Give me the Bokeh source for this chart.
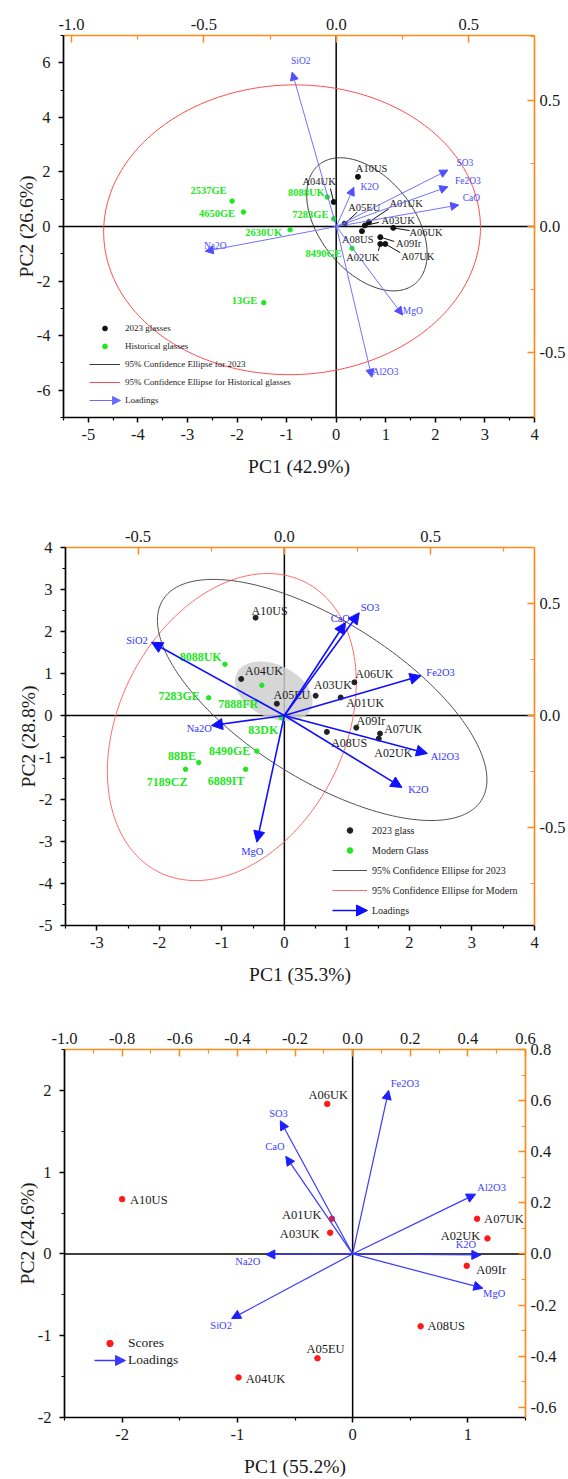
import numpy as np
from bokeh.plotting import figure
from bokeh.models import (ColumnDataSource, Range1d, LinearAxis, FixedTicker,
                          PrintfTickFormatter, Arrow, NormalHead, Span, Legend, LegendItem)
from bokeh.core.properties import value
from bokeh.embed import file_html
from bokeh.resources import INLINE

# ======================= DATA =======================
# ---- Panel 1 : 2023 glasses vs historical glasses ----
p1_g23_names = ["A10US", "A04UK", "A05EU", "A01UK", "A03UK", "A06UK", "A08US", "A09Ir", "A07UK", "A02UK"]
p1_g23_pc1 = [0.44, -0.05, 0.17, 0.66, 0.58, 1.15, 0.52, 0.89, 0.99, 0.89]
p1_g23_pc2 = [1.82, 0.90, 0.10, 0.16, 0.04, -0.05, -0.17, -0.39, -0.64, -0.64]
p1_hist_names = ["2537GE", "4650GE", "8088UK", "7283GE", "2630UK", "8490GE", "13GE"]
p1_hist_pc1 = [-2.10, -1.87, -0.18, -0.05, -0.93, 0.32, -1.46]
p1_hist_pc2 = [0.93, 0.53, 1.08, 0.28, -0.12, -0.80, -2.79]
p1_load_names = ["SiO2", "SO3", "Fe2O3", "CaO", "K2O", "Na2O", "MgO", "Al2O3"]
p1_load_pc1 = [-0.167, 0.421, 0.421, 0.462, 0.066, -0.495, 0.250, 0.134]
p1_load_pc2 = [0.610, 0.223, 0.157, 0.085, 0.155, -0.098, -0.350, -0.596]
p1_ell23_center = [0.62, 0.08]
p1_ell23_cov = [[1.476, -1.31], [-1.31, 5.95]]
p1_ellhist_center = [-0.89, -0.12]
p1_ellhist_cov = [[14.44, 0.30], [0.30, 28.2]]
p1_xlabel, p1_ylabel = "PC1 (42.9%)", "PC2 (26.6%)"
p1_bottom_ticks = [-5, -4, -3, -2, -1, 0, 1, 2, 3, 4]
p1_left_ticks = [-6, -4, -2, 0, 2, 4, 6]
p1_top_ticks = [-1.0, -0.5, 0.0, 0.5]
p1_right_ticks = [-0.5, 0.0, 0.5]
p1_legend = ["2023 glasses", "Historical glasses", "95% Confidence Ellipse for 2023",
             "95% Confidence Ellipse for Historical glasses", "Loadings"]

# ---- Panel 2 : 2023 glass vs modern glass ----
p2_g23_names = ["A10US", "A04UK", "A05EU", "A03UK", "A06UK", "A01UK", "A09Ir", "A07UK", "A02UK", "A08US"]
p2_g23_pc1 = [-0.46, -0.69, -0.12, 0.50, 1.12, 0.90, 1.15, 1.53, 1.51, 0.68]
p2_g23_pc2 = [2.33, 0.87, 0.28, 0.47, 0.79, 0.43, -0.29, -0.43, -0.55, -0.39]
p2_mod_names = ["8088UK", "7888FR", "7283GE", "83DK", "8490GE", "88BE", "7189CZ", "6889IT"]
p2_mod_pc1 = [-0.95, -0.36, -1.21, -0.05, -0.44, -1.37, -1.58, -0.62]
p2_mod_pc2 = [1.22, 0.72, 0.42, -0.05, -0.85, -1.12, -1.28, -1.28]
p2_load_names = ["SiO2", "CaO", "SO3", "Fe2O3", "Al2O3", "K2O", "Na2O", "MgO"]
p2_load_pc1 = [-0.454, 0.209, 0.256, 0.467, 0.489, 0.402, -0.249, -0.094]
p2_load_pc2 = [0.328, 0.416, 0.460, 0.178, -0.170, -0.322, -0.045, -0.567]
p2_ell23_center = [0.605, 0.37]
p2_ell23_cov = [[6.94, -5.0], [-5.0, 8.24]]
p2_ellmod_center = [-0.84, -0.275]
p2_ellmod_cov = [[3.96, 2.1], [2.1, 13.36]]
p2_shade_center = [-0.17, 0.575]
p2_shade_cov = [[0.384, -0.15], [-0.15, 0.504]]
p2_xlabel, p2_ylabel = "PC1 (35.3%)", "PC2 (28.8%)"
p2_bottom_ticks = [-3, -2, -1, 0, 1, 2, 3, 4]
p2_left_ticks = [-5, -4, -3, -2, -1, 0, 1, 2, 3, 4]
p2_top_ticks = [-0.5, 0.0, 0.5]
p2_right_ticks = [-0.5, 0.0, 0.5]
p2_legend = ["2023 glass", "Modern Glass", "95% Confidence Ellipse for 2023",
             "95% Confidence Ellipse for Modern", "Loadings"]

# ---- Panel 3 : 2023 glasses only ----
p3_names = ["A06UK", "A10US", "A01UK", "A03UK", "A07UK", "A02UK", "A09Ir", "A08US", "A05EU", "A04UK"]
p3_pc1 = [-0.22, -2.00, -0.18, -0.195, 1.08, 1.17, 0.99, 0.59, -0.305, -0.99]
p3_pc2 = [1.835, 0.67, 0.43, 0.26, 0.43, 0.19, -0.145, -0.885, -1.276, -1.51]
p3_load_names = ["Fe2O3", "SO3", "CaO", "Al2O3", "K2O", "Na2O", "MgO", "SiO2"]
p3_load_pc1 = [0.125, -0.251, -0.232, 0.427, 0.445, -0.301, 0.452, -0.420]
p3_load_pc2 = [0.640, 0.521, 0.382, 0.234, -0.004, -0.002, -0.134, -0.253]
p3_xlabel, p3_ylabel = "PC1 (55.2%)", "PC2 (24.6%)"
p3_bottom_ticks = [-2, -1, 0, 1]
p3_left_ticks = [-2, -1, 0, 1, 2]
p3_top_ticks = [-1.0, -0.8, -0.6, -0.4, -0.2, 0.0, 0.2, 0.4, 0.6]
p3_right_ticks = [-0.6, -0.4, -0.2, 0.0, 0.2, 0.4, 0.6, 0.8]
p3_legend = ["Scores", "Loadings"]

# ======================= LABEL PLACEMENT (pixel offsets, y down) =======================
p1_g23_dx = [13.6, -14.6, 19.7, 37.2, 33.2, 32.8, -4.2, 28.3, 32.5, -17.5]
p1_g23_dy = [-8.4, -20.7, -16.6, -19.0, -5.0, 4.4, 8.6, 6.6, 12.7, 13.4]
p1_lead_dx = [0, -3.3, 12.7, 20, 14, 16.3, 0, 14, 15, -2]
p1_lead_dy = [0, -13.4, -11.6, -13.4, -3, 2.7, 0, 4.3, 8.7, 7]
p1_hist_dx = [-23.6, -26.5, -20.9, -23.3, -26.4, -28.4, -19.3]
p1_hist_dy = [-10.7, 1.6, -5.0, -4.3, 3.0, 5.6, -2.4]
p1_load_dx = [8.7, 17, 20, 12.7, 15.8, 10, 10.3, 13.6]
p1_load_dy = [-11, -6.6, -6, -7.3, 0, -5, -4.3, -5]

p2_g23_dx = [14, 22.8, 15, 17.2, 19.9, 24.5, 14.6, 23.1, 14.5, 22.3]
p2_g23_dy = [-6.7, -7.6, -9, -10.3, -8.4, 5.6, -6.6, -4.3, 14, 11]
p2_mod_dx = [-24.3, -23.6, -29.5, -18, -27.3, -16.8, -18.5, -19.4]
p2_mod_dy = [-7, 18.3, -1.6, 11.9, 0, -6.6, 12.7, 11.7]
p2_load_dx = [-14.5, -5.2, 10.8, 19.6, 17.5, 16.5, -12.2, -4.5]
p2_load_dy = [-1.6, -4.4, -5.4, -3.3, 3, 1.7, 3.3, 9.4]

p3_dx = [1, 26.7, -30.1, -30.5, 26.8, -27, 24.4, 25.7, 8, 26.9]
p3_dy = [-8.5, 0.7, -3.3, 1, 0.7, -2.6, 4, 0, -9, 1.4]
p3_load_dx = [16.3, -1.8, -10.8, 16, -15, -18, 11.3, -10.5]
p3_load_dy = [-7, -7.3, -10, -7, -10, 7.3, 5.7, 7.3]

# ======================= STYLE HELPERS =======================
FONT = "Liberation Serif"
ORANGE = "#ff8c1a"
W = 568
SCALE = {}


def minors(ticks):
    step = ticks[1] - ticks[0]
    return [round(t - step / 2, 4) for t in ticks] + [round(ticks[-1] + step / 2, 4)]


def style_axis(ax, color, inward, ticks, fmt, standoff, label_standoff):
    ax.ticker = FixedTicker(ticks=ticks, minor_ticks=minors(ticks))
    ax.formatter = PrintfTickFormatter(format=fmt)
    ax.axis_line_color = color
    ax.axis_line_width = 1.7
    ax.major_tick_line_color = color
    ax.minor_tick_line_color = color
    ax.major_tick_line_width = 1.5
    ax.minor_tick_line_width = 1.2
    if inward:
        ax.major_tick_in, ax.major_tick_out = 7, 0
        ax.minor_tick_in, ax.minor_tick_out = 4, 0
    else:
        ax.major_tick_in, ax.major_tick_out = 0, 5
        ax.minor_tick_in, ax.minor_tick_out = 0, 3
    ax.major_label_text_font = FONT
    ax.major_label_text_font_size = "16.5px"
    ax.major_label_text_color = "#1a1a1a"
    ax.major_label_standoff = standoff
    ax.axis_label_text_font = FONT
    ax.axis_label_text_font_size = "19.5px"
    ax.axis_label_text_font_style = "normal"
    ax.axis_label_text_color = "#1a1a1a"
    ax.axis_label_standoff = label_standoff


def make_panel(height, borders, xr, yr, lxr, lyr, bt, lt, tt, rt, xlabel, ylabel):
    bl, br, btop, bbot = borders
    p = figure(width=W, height=height, x_range=Range1d(*xr), y_range=Range1d(*yr),
               output_backend="svg", toolbar_location=None,
               min_border_left=bl, min_border_right=br, min_border_top=btop,
               min_border_bottom=bbot, outline_line_color=None)
    p.extra_x_ranges = {"load": Range1d(*lxr)}
    p.extra_y_ranges = {"load": Range1d(*lyr)}
    p.xgrid.visible = False
    p.ygrid.visible = False
    style_axis(p.xaxis[0], "black", False, bt, "%d", 6, 13)
    style_axis(p.yaxis[0], "black", False, lt, "%d", 8, -3)
    p.xaxis[0].axis_label = xlabel
    p.yaxis[0].axis_label = ylabel
    top = LinearAxis(x_range_name="load")
    style_axis(top, ORANGE, True, tt, "%.1f", 6, 0)
    p.add_layout(top, "above")
    right = LinearAxis(y_range_name="load")
    style_axis(right, ORANGE, True, rt, "%.1f", 5, 0)
    p.add_layout(right, "right")
    for dim in ("height", "width"):
        p.add_layout(Span(location=0, dimension=dim, line_color="black",
                          line_width=1.5, level="underlay"))
    SCALE[p.id] = ((W - bl - br) / (xr[1] - xr[0]),
                   (height - btop - bbot) / (yr[1] - yr[0]))
    return p


def ellipse_xy(center, cov, n=240):
    t = np.linspace(0, 2 * np.pi, n)
    L = np.linalg.cholesky(np.array(cov, dtype=float))
    pts = L @ np.vstack([np.cos(t), np.sin(t)])
    return list(pts[0] + center[0]), list(pts[1] + center[1])


def add_points(p, xs, ys, color, size=5.0):
    return p.scatter(x=xs, y=ys, size=size, marker="circle", fill_color=color, line_color=color)


def add_labels(p, xs, ys, names, dx, dy, color, size, bold=False, load=False):
    src = ColumnDataSource(dict(x=xs, y=ys, t=names, dx=dx, dy=dy))
    kw = dict(x_range_name="load", y_range_name="load") if load else {}
    p.text(x="x", y="y", text="t", x_offset="dx", y_offset="dy", source=src,
           text_align="center", text_baseline="middle", text_font=value(FONT),
           text_font_size=size, text_color=color,
           text_font_style="bold" if bold else "normal", **kw)


def add_leaders(p, xs, ys, ldx, ldy):
    pxx, pxy = SCALE[p.id]
    keep = [i for i in range(len(xs)) if ldx[i] or ldy[i]]
    p.segment(x0=[xs[i] for i in keep], y0=[ys[i] for i in keep],
              x1=[xs[i] + ldx[i] / pxx for i in keep],
              y1=[ys[i] - ldy[i] / pxy for i in keep],
              line_color="#111111", line_width=1)


def add_loadings(p, xs, ys, color, head_color, width, head):
    n = len(xs)
    src = ColumnDataSource(dict(x0=[0.0] * n, y0=[0.0] * n, x1=xs, y1=ys))
    p.add_layout(Arrow(x_start="x0", y_start="y0", x_end="x1", y_end="y1", source=src,
                       line_color=color, line_width=width,
                       end=NormalHead(size=head, fill_color=head_color, line_color=head_color),
                       x_range_name="load", y_range_name="load"))


def add_legend(p, labels, renderers, loc, h, spacing, gw, standoff, fsize, acolor, aw, head):
    dummy = p.line(x=[], y=[], line_alpha=0)
    items = [LegendItem(label=l, renderers=[r]) for l, r in zip(labels[:-1], renderers)]
    items.append(LegendItem(label=labels[-1], renderers=[dummy]))
    leg = Legend(items=items, location=loc, glyph_height=h, glyph_width=gw, label_height=h,
                 spacing=spacing, label_standoff=standoff, padding=0, margin=0,
                 border_line_alpha=0, background_fill_alpha=0, label_text_font=FONT,
                 label_text_font_size=fsize, label_text_color="#1a1a1a")
    p.add_layout(leg)
    yc = loc[1] + h / 2
    p.add_layout(Arrow(x_start=loc[0], y_start=yc, x_end=loc[0] + gw, y_end=yc,
                       start_units="screen", end_units="screen",
                       line_color=acolor, line_width=aw,
                       end=NormalHead(size=head, fill_color=acolor, line_color=acolor)))


GREEN = "#22e622"

# ======================= PANEL 1 =======================
p1 = make_panel(480, (63, 34, 35, 63), (-5.5, 4), (-7, 7), (-1.03, 0.748), (-0.755, 0.755),
                p1_bottom_ticks, p1_left_ticks, p1_top_ticks, p1_right_ticks, p1_xlabel, p1_ylabel)
ex, ey = ellipse_xy(p1_ellhist_center, p1_ellhist_cov)
r1_hist_ell = p1.line(ex, ey, line_color="#ff4d4d", line_width=1)
ex, ey = ellipse_xy(p1_ell23_center, p1_ell23_cov)
r1_23_ell = p1.line(ex, ey, line_color="#3c3c3c", line_width=1)
add_leaders(p1, p1_g23_pc1, p1_g23_pc2, p1_lead_dx, p1_lead_dy)
r1_hist = add_points(p1, p1_hist_pc1, p1_hist_pc2, GREEN, 4.5)
r1_23 = add_points(p1, p1_g23_pc1, p1_g23_pc2, "#111111", 5)
add_loadings(p1, p1_load_pc1, p1_load_pc2, "#7272ff", "#5050ff", 1, 8)
add_labels(p1, p1_g23_pc1, p1_g23_pc2, p1_g23_names, p1_g23_dx, p1_g23_dy, "#1a1a1a", "10.5px")
add_labels(p1, p1_hist_pc1, p1_hist_pc2, p1_hist_names, p1_hist_dx, p1_hist_dy, GREEN, "10.5px", bold=True)
add_labels(p1, p1_load_pc1, p1_load_pc2, p1_load_names, p1_load_dx, p1_load_dy, "#4a4aff", "9.5px", load=True)
add_legend(p1, p1_legend, [r1_23, r1_hist, r1_23_ell, r1_hist_ell], (26, 11), 12, 6, 31, 5,
           "9px", "#6a6aff", 1.2, 8)

# ======================= PANEL 2 =======================
p2 = make_panel(507, (65, 33, 67, 60), (-3.5, 4), (-5, 4), (-0.748, 0.855), (-0.940, 0.752),
                p2_bottom_ticks, p2_left_ticks, p2_top_ticks, p2_right_ticks, p2_xlabel, p2_ylabel)
ex, ey = ellipse_xy(p2_shade_center, p2_shade_cov)
p2.patch(ex, ey, fill_color="#cfcfcf", fill_alpha=0.85, line_color=None)
ex, ey = ellipse_xy(p2_ellmod_center, p2_ellmod_cov)
r2_mod_ell = p2.line(ex, ey, line_color="#ff6a6a", line_width=1)
ex, ey = ellipse_xy(p2_ell23_center, p2_ell23_cov)
r2_23_ell = p2.line(ex, ey, line_color="#505050", line_width=1)
r2_mod = add_points(p2, p2_mod_pc1, p2_mod_pc2, GREEN, 4.5)
r2_23 = add_points(p2, p2_g23_pc1, p2_g23_pc2, "#222222", 5)
add_loadings(p2, p2_load_pc1, p2_load_pc2, "#1010ff", "#1010ff", 1.6, 11)
add_labels(p2, p2_g23_pc1, p2_g23_pc2, p2_g23_names, p2_g23_dx, p2_g23_dy, "#1a1a1a", "12px")
add_labels(p2, p2_mod_pc1, p2_mod_pc2, p2_mod_names, p2_mod_dx, p2_mod_dy, GREEN, "12px", bold=True)
add_labels(p2, p2_load_pc1, p2_load_pc2, p2_load_names, p2_load_dx, p2_load_dy, "#3333ff", "10.5px", load=True)
add_legend(p2, p2_legend, [r2_23, r2_mod, r2_23_ell, r2_mod_ell], (267, 8), 14, 6, 35, 5,
           "10px", "#1010ff", 1.6, 11)

# ======================= PANEL 3 =======================
p3 = make_panel(492, (64, 43, 62, 59), (-2.5, 1.5), (-2, 2.5), (-1.0, 0.6), (-0.64, 0.8),
                p3_bottom_ticks, p3_left_ticks, p3_top_ticks, p3_right_ticks, p3_xlabel, p3_ylabel)
r3 = add_points(p3, p3_pc1, p3_pc2, "#ff1a1a", 5.5)
add_loadings(p3, p3_load_pc1, p3_load_pc2, "#3a3aff", "#2020ff", 1.2, 9)
add_labels(p3, p3_pc1, p3_pc2, p3_names, p3_dx, p3_dy, "#1a1a1a", "12.5px")
add_labels(p3, p3_load_pc1, p3_load_pc2, p3_load_names, p3_load_dx, p3_load_dy, "#4040ff", "10.5px", load=True)
add_legend(p3, p3_legend, [r3], (30, 49), 16, 1, 31, 3, "13.5px", "#3a3aff", 1.3, 10)

# three independent roots stacked on the page (no frame alignment between panels)
open("out.html", "w").write(file_html([p1, p2, p3], INLINE))
